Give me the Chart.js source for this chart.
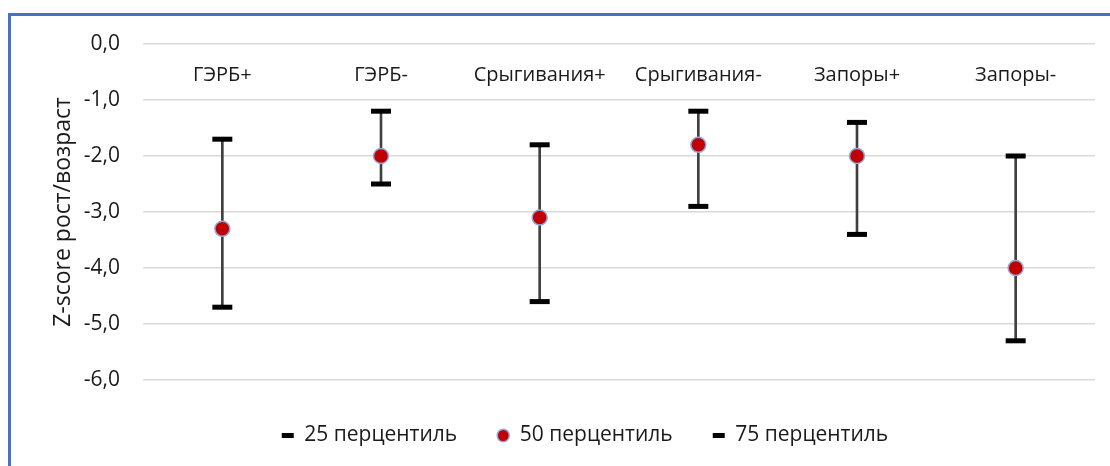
<!DOCTYPE html>
<html>
<head>
<meta charset="utf-8">
<script src="https://cdn.jsdelivr.net/npm/chart.js@4.4.1/dist/chart.umd.min.js"></script>
<style>
  html, body { margin: 0; padding: 0; background: #fff; }
  #wrap { position: relative; width: 1110px; height: 466px; overflow: hidden; }
  #frame {
    position: absolute; left: 8px; top: 13px; width: 1110px; height: 470px;
    border-top: 3px solid #4472C4; border-left: 3px solid #4472C4; box-sizing: border-box;
    pointer-events: none;
  }
  canvas { position: absolute; left: 0; top: 0; }
</style>
</head>
<body>
<div id="wrap">
  <canvas id="c" width="1110" height="466"></canvas>
  <div id="frame"></div>
</div>
<script>
// Groups and percentile values of height-for-age Z-score
const categories = ['ГЭРБ+', 'ГЭРБ-', 'Срыгивания+', 'Срыгивания-', 'Запоры+', 'Запоры-'];
const p25 = [-4.7, -2.5, -4.6, -2.9, -3.4, -5.3];
const p50 = [-3.3, -2.0, -3.1, -1.8, -2.0, -4.0];
const p75 = [-1.7, -1.2, -1.8, -1.2, -1.4, -2.0];
const seriesNames = ['25 перцентиль', '50 перцентиль', '75 перцентиль'];
const yAxisTitle = 'Z-score рост/возраст';
const yMin = -6, yMax = 0, yStep = 1;

const FONT = "'Open Sans', 'Noto Sans', sans-serif";
const TEXT = '#1a1a1a';

// category names drawn just under the zero line
const categoryLabels = {
  id: 'categoryLabels',
  afterDraw(chart) {
    const {ctx, scales: {x, y}} = chart;
    ctx.save();
    ctx.font = '20px ' + FONT;
    ctx.fillStyle = TEXT;
    ctx.textAlign = 'center';
    ctx.textBaseline = 'middle';
    const yPos = y.getPixelForValue(0) + 31;
    categories.forEach((name, i) => ctx.fillText(name, x.getPixelForValue(i), yPos));
    ctx.restore();
  }
};

new Chart(document.getElementById('c'), {
  type: 'bar',
  data: {
    labels: categories,
    datasets: [
      {
        type: 'bar',
        label: 'range',
        data: categories.map((_, i) => [p25[i], p75[i]]),
        backgroundColor: '#404040',
        barThickness: 2,
        order: 10
      },
      {
        type: 'line',
        label: seriesNames[0],
        data: p25,
        showLine: false,
        pointStyle: 'line',
        pointRadius: 10,
        pointBorderWidth: 5,
        pointBorderColor: '#000',
        pointBackgroundColor: '#000',
        borderColor: '#000',
        order: 2
      },
      {
        type: 'line',
        label: seriesNames[1],
        data: p50,
        showLine: false,
        pointStyle: 'circle',
        pointRadius: 7.5,
        pointBorderWidth: 1.5,
        pointBorderColor: '#8FAADC',
        pointBackgroundColor: '#C00000',
        borderColor: '#8FAADC',
        backgroundColor: '#C00000',
        order: 1
      },
      {
        type: 'line',
        label: seriesNames[2],
        data: p75,
        showLine: false,
        pointStyle: 'line',
        pointRadius: 10,
        pointBorderWidth: 5,
        pointBorderColor: '#000',
        pointBackgroundColor: '#000',
        borderColor: '#000',
        order: 3
      }
    ]
  },
  options: {
    responsive: false,
    animation: false,
    events: [],
    layout: { padding: { left: 75, right: 15, top: 44, bottom: 10 } },
    scales: {
      x: {
        display: true,
        grid: { display: false },
        border: { display: false },
        ticks: { display: false },
        afterFit(scale) { scale.height = 5; }
      },
      y: {
        min: yMin,
        max: yMax,
        grid: { color: '#D9D9D9', lineWidth: 1.5, drawTicks: false },
        border: { display: false },
        ticks: {
          stepSize: yStep,
          padding: 23,
          color: TEXT,
          font: { family: FONT, size: 21 },
          callback: v => v.toFixed(1).replace('.', ',')
        },
        title: {
          display: true,
          text: yAxisTitle,
          color: TEXT,
          font: { family: FONT, size: 23 },
          padding: { top: -25, bottom: 0 }
        },
        afterFit(scale) { scale.width = 68; }
      }
    },
    plugins: {
      tooltip: { enabled: false },
      legend: {
        position: 'bottom',
        labels: {
          color: TEXT,
          font: { family: FONT, size: 21 },
          usePointStyle: true,
          boxHeight: 9,
          pointStyleWidth: 12,
          padding: 40,
          sort: (a, b) => a.datasetIndex - b.datasetIndex,
          filter: item => item.datasetIndex !== 0
        }
      }
    }
  },
  plugins: [categoryLabels]
});
</script>
</body>
</html>
